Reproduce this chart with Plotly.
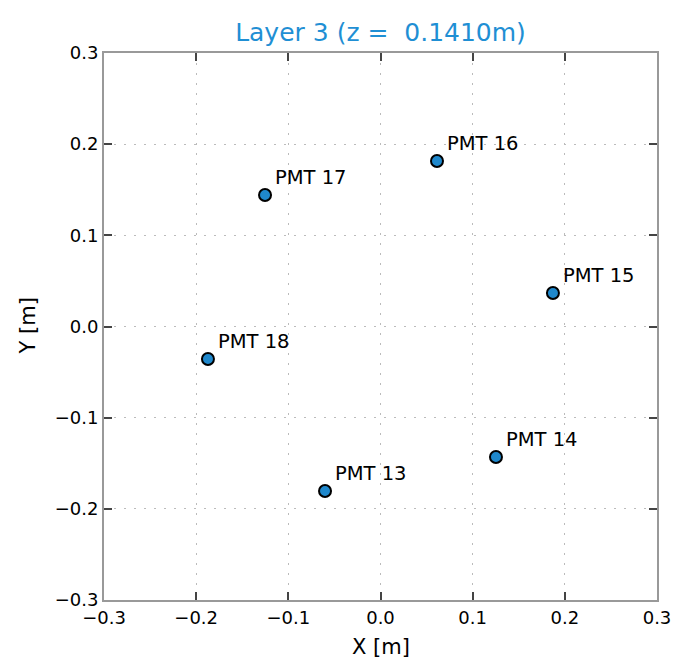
import plotly.graph_objects as go

labels = ["PMT 13", "PMT 14", "PMT 15", "PMT 16", "PMT 17", "PMT 18"]
xs = [-0.0602, 0.1253, 0.1871, 0.0613, -0.1253, -0.1872]
ys = [-0.1804, -0.1431, 0.0368, 0.1815, 0.1442, -0.0356]
ticks = [-0.3, -0.2, -0.1, 0.0, 0.1, 0.2, 0.3]
tick_text = ["\u22120.3", "\u22120.2", "\u22120.1", "0.0", "0.1", "0.2", "0.3"]

FONT = "DejaVu Sans"

fig = go.Figure()
fig.add_trace(go.Scatter(
    x=xs, y=ys, mode="markers",
    marker=dict(size=12, color="#1f88cc", line=dict(color="black", width=2)),
    showlegend=False, hoverinfo="skip",
))

for lab, x, y in zip(labels, xs, ys):
    fig.add_annotation(x=x, y=y, text=lab, showarrow=False,
                       xanchor="left", yanchor="bottom", xshift=8, yshift=4,
                       font=dict(family=FONT, size=19.5, color="black"))

axis_common = dict(
    range=[-0.3, 0.3], tickvals=ticks, ticktext=tick_text,
    ticks="inside", ticklen=8, tickwidth=1.5, tickcolor="#444",
    showline=True, linecolor="#999", linewidth=2, mirror="ticks",
    showgrid=True, gridcolor="#bbbbbb", griddash="2px,8px", gridwidth=1,
    zeroline=False, tickfont=dict(family=FONT, size=18, color="black"),
    automargin=False,
)

fig.update_xaxes(**axis_common)
fig.update_yaxes(**axis_common)

fig.add_annotation(x=0.5, y=0, xref="paper", yref="paper", text="X [m]",
                   showarrow=False, xanchor="center", yanchor="middle", yshift=-47,
                   font=dict(family=FONT, size=21, color="black"))
fig.add_annotation(x=0, y=0.5, xref="paper", yref="paper", text="Y [m]",
                   showarrow=False, xanchor="center", yanchor="middle", xshift=-77,
                   textangle=-90, font=dict(family=FONT, size=21, color="black"))

fig.update_layout(
    width=673, height=660,
    margin=dict(l=104, r=16, t=53, b=60, autoexpand=False),
    plot_bgcolor="white", paper_bgcolor="white",
    title=dict(text="Layer 3 (z =  0.1410m)", x=0.5, xref="paper", xanchor="center",
               y=1, yref="paper", yanchor="bottom", pad=dict(b=12),
               font=dict(family=FONT, size=25, color="#1f8fd4")),
    font=dict(family=FONT),
)

fig.write_html("out.html")
